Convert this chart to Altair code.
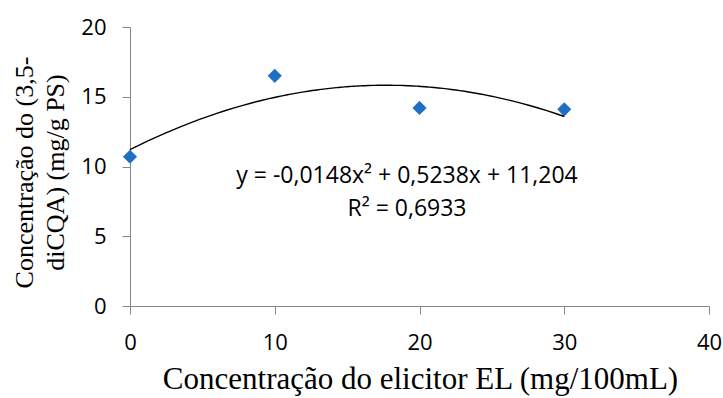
import altair as alt
import pandas as pd

# data
conc_el = [0, 10, 20, 30]
dicqa = [10.7, 16.5, 14.2, 14.1]
x_ticks = [0, 10, 20, 30, 40]
y_ticks = [0, 5, 10, 15, 20]
eq_line1 = "y = -0,0148x² + 0,5238x + 11,204"
eq_line2 = "R² = 0,6933"
x_title = "Concentração do elicitor EL (mg/100mL)"
y_title = ["Concentração do (3,5-", "diCQA) (mg/g PS)"]

df = pd.DataFrame({"x": conc_el, "y": dicqa})

AXIS_GRAY = "#868686"
TICK_FONT = "Open Sans"
TITLE_FONT = "Liberation Serif"

x_enc = alt.X(
    "x:Q",
    scale=alt.Scale(domain=[0, 40], nice=False, zero=False),
    axis=alt.Axis(
        values=x_ticks, title=x_title, grid=False,
        domainColor=AXIS_GRAY, tickColor=AXIS_GRAY, tickSize=8,
        labelFont=TICK_FONT, labelFontSize=22, labelColor="black",
        labelPadding=18, labelFlush=False, labelOverlap=False,
        titleFont=TITLE_FONT, titleFontSize=31, titleFontWeight="normal",
        titleColor="black", titleX=290, titleY=82,
        titleBaseline="alphabetic", titleAlign="center",
    ),
)
y_enc = alt.Y(
    "y:Q",
    scale=alt.Scale(domain=[0, 20], nice=False),
    axis=alt.Axis(
        values=y_ticks, title=y_title, grid=False,
        domainColor=AXIS_GRAY, tickColor=AXIS_GRAY, tickSize=8,
        labelFont=TICK_FONT, labelFontSize=22, labelColor="black",
        labelPadding=16,
        titleFont=TITLE_FONT, titleFontSize=26, titleFontWeight="normal",
        titleColor="black", titleAngle=-90, titleX=-119, titleY=145,
        titleAlign="center", titleBaseline="top", titleLineHeight=31,
    ),
)

base = alt.Chart(df)

points = base.mark_point(
    shape="diamond", filled=True, size=200, color="#1F6FC6", opacity=1
).encode(x=x_enc, y=y_enc)

trend = base.transform_regression(
    "x", "y", method="poly", order=2, extent=[0, 30]
).mark_line(color="black", strokeWidth=1.4).encode(x=x_enc, y=y_enc)

txt1 = alt.Chart(pd.DataFrame({"t": [eq_line1]})).mark_text(
    font=TICK_FONT, fontSize=23, color="black", align="center", baseline="alphabetic"
).encode(text="t:N", x=alt.value(277), y=alt.value(155.5))

txt2 = alt.Chart(pd.DataFrame({"t": [eq_line2]})).mark_text(
    font=TICK_FONT, fontSize=23, color="black", align="center", baseline="alphabetic"
).encode(text="t:N", x=alt.value(277), y=alt.value(188.5))

chart = alt.layer(points, trend, txt1, txt2).properties(
    width=579, height=279,
    autosize=alt.AutoSizeParams(type="none"),
    padding={"left": 130, "top": 27, "right": 14, "bottom": 92},
    background="white",
).configure_view(stroke=None)

chart.save("out.html", embed_options={"renderer": "svg", "actions": False})
